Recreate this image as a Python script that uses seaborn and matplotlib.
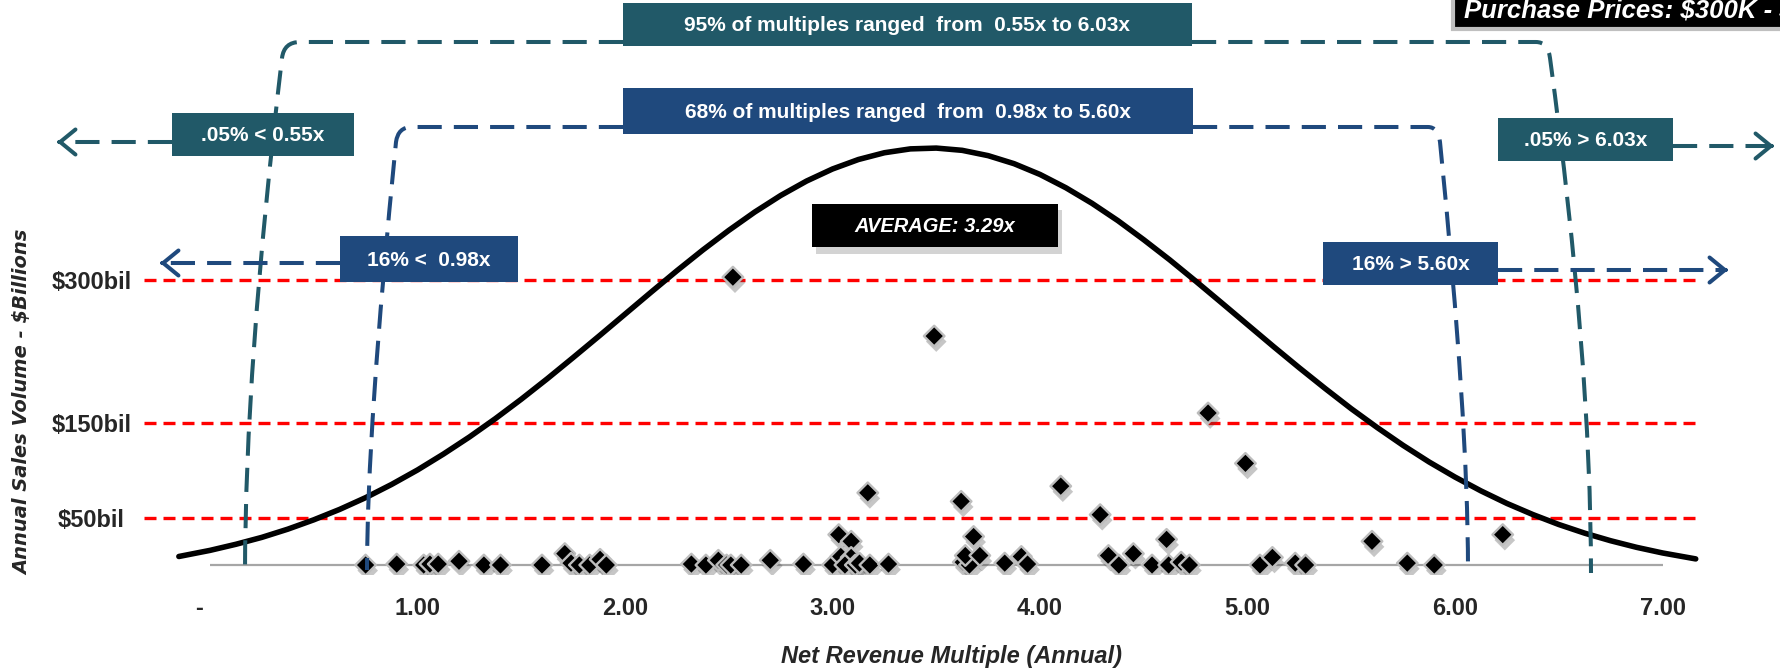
import matplotlib
matplotlib.use("Agg")
import matplotlib.pyplot as plt
import matplotlib.transforms as mtransforms
import matplotlib.patheffects as pe
from matplotlib.patches import Rectangle, PathPatch, FancyArrowPatch
from matplotlib.path import Path
from matplotlib import font_manager
import seaborn as sns

# deals: net revenue multiple vs annual sales volume ($ billions)
multiple = [0.75, 0.90, 1.03, 1.06, 1.10, 1.20, 1.32, 1.40, 1.60, 1.71, 1.74, 1.78, 1.83, 1.88, 1.91,
            2.32, 2.39, 2.45, 2.49, 2.51, 2.56, 2.70, 2.86, 3.00, 3.03, 3.09, 3.04, 3.09, 3.06, 3.11,
            3.13, 3.18, 3.27, 3.63, 3.66, 3.64, 3.71, 3.68, 3.83, 3.91, 3.94, 4.33, 4.38, 4.45, 4.54,
            4.61, 4.62, 4.68, 4.72, 5.06, 5.12, 5.23, 5.28, 5.60, 5.77, 5.90, 6.23,
            2.52, 3.49, 4.81, 4.99, 3.17, 3.62, 4.10, 4.29]
volume = [0, 1, 0, 1, 1, 4, 0, 0, 0, 12, 2, 0, 0, 6, 0,
          1, 0, 5, 0, 0, 0, 5, 1, 0, 32, 25, 9, 8, 0, 0,
          2, 0, 1, 3, 0, 10, 10, 30, 2, 9, 1, 10, 0, 12, 0,
          27, 0, 3, 0, 0, 8, 2, 0, 25, 2, 0, 32,
          303, 241, 160, 107, 76, 67, 83, 53]

# bell curve (relative density)
curve_x = [-0.15, 0.0, 0.125, 0.25, 0.375, 0.5, 0.625, 0.75, 0.875, 1.0, 1.125, 1.25, 1.375, 1.5,
           1.625, 1.75, 1.875, 2.0, 2.125, 2.25, 2.375, 2.5, 2.625, 2.75, 2.875, 3.0, 3.125, 3.25,
           3.375, 3.5, 3.625, 3.75, 3.875, 4.0, 4.125, 4.25, 4.375, 4.5, 4.625, 4.75, 4.875, 5.0,
           5.125, 5.25, 5.375, 5.5, 5.625, 5.75, 5.875, 6.0, 6.125, 6.25, 6.375, 6.5, 6.625, 6.75,
           6.875, 7.0, 7.16]
curve_y = [0.0140, 0.0178, 0.0216, 0.0259, 0.0310, 0.0368, 0.0433, 0.0506, 0.0588, 0.0678, 0.0777,
           0.0883, 0.0997, 0.1118, 0.1245, 0.1377, 0.1511, 0.1647, 0.1783, 0.1917, 0.2046, 0.2168,
           0.2282, 0.2385, 0.2475, 0.2550, 0.2609, 0.2651, 0.2675, 0.2680, 0.2666, 0.2633, 0.2583,
           0.2516, 0.2433, 0.2337, 0.2229, 0.2110, 0.1985, 0.1853, 0.1718, 0.1582, 0.1446, 0.1313,
           0.1184, 0.1059, 0.0942, 0.0831, 0.0728, 0.0634, 0.0548, 0.0470, 0.0401, 0.0339, 0.0285,
           0.0238, 0.0197, 0.0162, 0.0125]

x_ticks = [0, 1, 2, 3, 4, 5, 6, 7]
x_tick_labels = ["-   ", "1.00", "2.00", "3.00", "4.00", "5.00", "6.00", "7.00"]
ref_levels = [300, 150, 50]
ref_labels = ["$300bil", "$150bil", "$50bil"]

band_95 = "95% of multiples ranged  from  0.55x to 6.03x"
band_68 = "68% of multiples ranged  from  0.98x to 5.60x"
tail_low_95 = ".05% < 0.55x"
tail_low_68 = "16% <  0.98x"
tail_high_95 = ".05% > 6.03x"
tail_high_68 = "16% > 5.60x"
average_note = "AVERAGE: 3.29x"
price_note = r"Purchase Prices: \$300K - \$5M"

TEAL = "#215968"
NAVY = "#1F497D"

sns.set_style("white")
available = {f.name for f in font_manager.fontManager.ttflist}
main_font = next(f for f in ["Liberation Sans", "Arial", "DejaVu Sans"] if f in available)
plt.rcParams["font.family"] = [main_font, "DejaVu Sans"]

W, H = 1781, 671
fig = plt.figure(figsize=(W / 100, H / 100), dpi=100)
# pixel coordinates, origin top-left, for the annotation shapes
px = mtransforms.Affine2D().scale(1 / W, -1 / H).translate(0, 1) + fig.transFigure

ax = fig.add_axes([144 / W, (H - 575) / H, (W - 144) / W, 575 / H])
ax.set_xlim(-0.318, 7.571)
ax.set_ylim(-10.5, 594.7)

ax.hlines(ref_levels, -0.318, 7.19, colors="#FF0000", lw=2.4, linestyles=[(0, (3.6, 2.1))], zorder=1)
ax.hlines(0, x_ticks[0], x_ticks[-1], colors="#A6A6A6", lw=1.6, zorder=1)

shadow = [pe.SimplePatchShadow(offset=(1.5, -4), shadow_rgbFace="#444444", alpha=0.3), pe.Normal()]
sns.scatterplot(x=multiple, y=volume, ax=ax, marker="D", s=110, color="black",
                edgecolor="#BDBDBD", linewidth=1.7, zorder=4, legend=False, path_effects=shadow)

ax.set_xticks(x_ticks, x_tick_labels)
ax.set_yticks(ref_levels, ref_labels)
ax.tick_params(axis="x", length=0, pad=16, labelsize=17)
ax.tick_params(axis="y", length=0, pad=38, labelsize=17)
for lab in ax.get_xticklabels() + ax.get_yticklabels():
    lab.set_fontweight("bold")
for lab in ax.get_yticklabels():
    lab.set_ha("center")
for s in ax.spines.values():
    s.set_visible(False)

ax2 = ax.twinx()
ax2.set_ylim(0.00249, 0.3601)
sns.lineplot(x=curve_x, y=curve_y, ax=ax2, color="black", lw=4, zorder=3)
ax2.set_yticks([])
ax2.set_ylabel("")
for s in ax2.spines.values():
    s.set_visible(False)

# range brackets (dashed connectors)
dash = (0, (6, 3))
M, L, C = Path.MOVETO, Path.LINETO, Path.CURVE3
brackets = [
    ([(623, 42), (300, 42), (284, 42), (282, 58), (245, 370), (245, 573)], TEAL),
    ([(1192, 42), (1536, 42), (1548, 42), (1550, 58), (1591, 360), (1591, 573)], TEAL),
    ([(623, 127), (412, 127), (398, 127), (396, 142), (367, 432), (367, 570)], NAVY),
    ([(1193, 127), (1428, 127), (1438, 127), (1440, 142), (1468, 420), (1468, 568)], NAVY),
]
for pts, col in brackets:
    ax2.add_patch(PathPatch(Path(pts, [M, L, C, C, C, C]), transform=px, fill=False,
                            edgecolor=col, lw=2.9, linestyle=dash, clip_on=False, zorder=5))

# tail arrows
for x0, x1, y, col in [(172, 57, 142, TEAL), (340, 160, 263, NAVY),
                       (1673, 1774, 146, TEAL), (1498, 1728, 270, NAVY)]:
    step = 3 if x1 > x0 else -3
    ax2.plot([x0, x1 - step], [y, y], transform=px, color=col, lw=2.9, linestyle=dash,
             clip_on=False, zorder=5)
    ax2.add_patch(FancyArrowPatch((x1 - step, y), (x1, y), transform=px,
                                  arrowstyle="->,head_length=0.55,head_width=0.45",
                                  mutation_scale=20, lw=2.9, color=col, shrinkA=0, shrinkB=0,
                                  clip_on=False, zorder=5))

# boxes
boxes = [
    (band_95, TEAL, (623, 3, 1192, 46), "normal", 15),
    (band_68, NAVY, (623, 88, 1193, 134), "normal", 15),
    (tail_low_95, TEAL, (172, 113, 354, 156), "normal", 15),
    (tail_low_68, NAVY, (340, 236, 518, 282), "normal", 15),
    (tail_high_95, TEAL, (1498, 118, 1673, 161), "normal", 15),
    (tail_high_68, NAVY, (1323, 242, 1498, 285), "normal", 15),
    (average_note, "black", (812, 204, 1058, 247), "italic", 14.5),
]
# soft shadow under the average box
ax2.add_patch(Rectangle((816, 210), 246, 44, transform=px, facecolor="#9E9E9E", alpha=0.45,
                        edgecolor="none", clip_on=False, zorder=6))
for text, col, (x0, y0, x1, y1), style, size in boxes:
    ax2.add_patch(Rectangle((x0, y0), x1 - x0, y1 - y0, transform=px, facecolor=col,
                            edgecolor="none", clip_on=False, zorder=7))
    ax2.text((x0 + x1) / 2, (y0 + y1) / 2 + 1, text, transform=px, ha="center", va="center",
             color="white", fontsize=size, fontweight="bold", style=style, clip_on=False, zorder=8)

ax2.add_patch(Rectangle((1453, -6), 340, 35, transform=px, facecolor="black", edgecolor="#BFBFBF",
                        lw=3, clip_on=False, zorder=7))
ax2.text(1464, 11, price_note, transform=px, ha="left", va="center", color="white",
         fontsize=18.5, fontweight="bold", style="italic", clip_on=False, zorder=8)

fig.text(952, 657, "Net Revenue Multiple (Annual)", transform=px, ha="center", va="center",
         fontsize=17, fontweight="bold", style="italic")
fig.text(23, 402, "Annual Sales Volume - $Billions", transform=px, ha="center", va="center",
         rotation=90, fontsize=14, fontweight="bold", style="italic", family="DejaVu Sans")

fig.savefig("out.png", dpi=100)
